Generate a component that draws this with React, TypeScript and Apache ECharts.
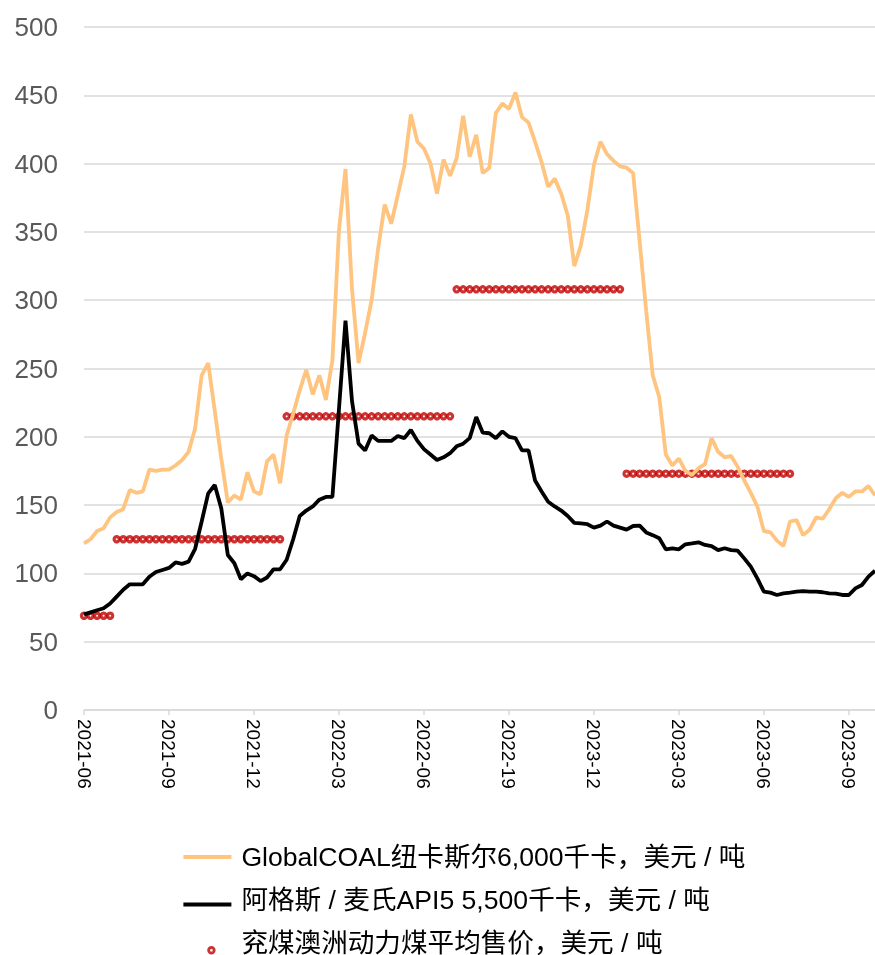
import React, { useEffect, useRef } from "react";
import * as echarts from "echarts";

const FONT = "'Liberation Sans', Arial, 'Noto Sans CJK SC', sans-serif";

// x tick labels (one every 13 weeks), as printed in the source
const tickLabels = ["2021-06", "2021-09", "2021-12", "2022-03", "2022-06", "2022-19", "2023-12", "2023-03", "2023-06", "2023-09"];
const tickEvery = 13;

const seriesNames = [
  "GlobalCOAL纽卡斯尔6,000千卡，美元 / 吨",
  "阿格斯 / 麦氏API5 5,500千卡，美元 / 吨",
  "兖煤澳洲动力煤平均售价，美元 / 吨",
];

// weekly GlobalCOAL Newcastle 6,000 kcal, USD/t
const newcastle = [
  122, 125, 131, 133, 141, 145, 147, 161, 159, 160,
  176, 175, 176, 176, 179, 183, 189, 206, 245, 254,
  219, 184, 152, 157, 154, 174, 160, 158, 182, 187,
  166, 201, 217, 234, 249, 231, 245, 227, 256, 351,
  396, 308, 254, 276, 300, 338, 370, 356, 377, 398,
  436, 416, 411, 400, 378, 403, 391, 404, 435, 405,
  421, 393, 397, 437, 444, 440, 452, 434, 430, 416,
  401, 383, 389, 378, 362, 325, 340, 366, 399, 416,
  407, 402, 398, 397, 393, 343, 292, 245, 229, 187,
  179, 184, 175, 172, 177, 180, 199, 189, 185, 186,
  178, 168, 159, 149, 131, 130, 124, 120, 138, 139,
  128, 132, 141, 140, 147, 155, 159, 156, 160, 160,
  164, 157,
];

// weekly Argus/McCloskey API5 5,500 kcal, USD/t
const api5 = [
  70, 71.5, 73, 74.5, 78, 83, 88, 92, 92, 92,
  97.6, 101, 102.5, 104, 108, 107, 108.6, 118, 138, 158.6,
  164.7, 147.6, 113.5, 107.4, 95.7, 100, 98, 94.4, 97, 103,
  103, 110, 125, 142, 146, 149, 154, 156, 156, 220,
  285, 226, 195, 190, 201, 197, 197, 197, 200.6, 199,
  205, 197, 191, 187, 183, 185, 188, 193, 195, 199,
  214.5, 203, 202.6, 199, 204, 200, 199, 190, 190, 168,
  160, 152.5, 149, 146, 142, 137, 136.6, 136, 133.5, 135,
  138, 135, 133.5, 132, 134.7, 135, 130, 128, 125.7, 117.6,
  118.4, 117.6, 121.3, 122, 122.8, 120.8, 120, 117, 118.4, 117,
  116.6, 111, 105, 96.4, 86.6, 85.9, 84.2, 85.4, 85.9, 86.6,
  87.1, 86.6, 86.6, 86.2, 85.4, 85.2, 84.2, 84.2, 89, 91.5,
  97.6, 102,
];

// Yancoal average realised thermal price by period (week index ranges)
const avgPrice = [69, 125, 215, 308, 173];
const periodStart = [0, 5, 31, 57, 83];
const periodEnd = [4, 30, 56, 82, 108];

const weeks = newcastle.map((_, i) => String(i));

const ORANGE = "#FFC47F";
const DARK_RED = "#C00000";

// legend icons: 48x22 boxes (corner marks fix the box so the visible mark keeps its offset)
const BOX = "M0,0 L0.01,0 M47.99,22 L48,22 ";
const ICON_ORANGE = "path://" + BOX + "M0,9 L48,9 L48,13 L0,13 Z";
const ICON_BLACK = "path://" + BOX + "M0,13.5 L48,13.5 L48,17.5 L0,17.5 Z";
const ICON_DOT = "path://" + BOX + "M25.2,18.3 A2.8,2.8 0 1,0 30.8,18.3 A2.8,2.8 0 1,0 25.2,18.3 Z";

export default function App() {
  const ref = useRef<HTMLDivElement>(null);

  useEffect(() => {
    if (!ref.current) return;
    const chart = echarts.init(ref.current, null, { renderer: "svg" });

    const dots: number[][] = [];
    avgPrice.forEach((v, k) => {
      for (let i = periodStart[k]; i <= periodEnd[k]; i++) dots.push([i, v]);
    });

    chart.setOption({
      animation: false,
      textStyle: { fontFamily: FONT },
      grid: { left: 84, top: 27, bottom: 245, right: -2.3 },
      legend: {
        data: [
          { name: seriesNames[0], icon: ICON_ORANGE },
          { name: seriesNames[1], icon: ICON_BLACK },
          { name: seriesNames[2], icon: ICON_DOT, itemStyle: { borderWidth: 2.8 } },
        ],
        orient: "vertical",
        left: 182,
        top: 843,
        height: 160,
        padding: 0,
        itemWidth: 48,
        itemHeight: 22,
        itemGap: 15,
        textStyle: {
          fontSize: 26.6,
          color: "#000",
          fontFamily: FONT,
          lineHeight: 28,
          padding: [0, 0, 0, 5],
        },
      },
      xAxis: {
        type: "category",
        data: weeks,
        boundaryGap: false,
        axisLine: { lineStyle: { color: "#d9d9d9", width: 1.5 } },
        axisTick: { interval: tickEvery - 1, length: 5, lineStyle: { color: "#d9d9d9", width: 1.5 } },
        axisLabel: {
          interval: tickEvery - 1,
          rotate: -90,
          margin: 9,
          fontSize: 19,
          color: "#000",
          fontFamily: FONT,
          formatter: (_v: string, i: number) => tickLabels[Math.round(i / tickEvery)] ?? "",
        },
        splitLine: { show: false },
      },
      yAxis: {
        type: "value",
        min: 0,
        max: 500,
        interval: 50,
        axisLine: { show: false },
        axisTick: { show: false },
        axisLabel: { fontSize: 26, color: "#595959", margin: 26, fontFamily: FONT },
        splitLine: { lineStyle: { color: "#d9d9d9", width: 1.5 } },
      },
      series: [
        {
          name: seriesNames[0],
          type: "line",
          data: newcastle,
          symbol: "none",
          lineStyle: { color: ORANGE, width: 3.8 },
          itemStyle: { color: ORANGE },
        },
        {
          name: seriesNames[1],
          type: "line",
          data: api5,
          symbol: "none",
          lineStyle: { color: "#000000", width: 3.8 },
          itemStyle: { color: "#000000" },
        },
        {
          name: seriesNames[2],
          type: "scatter",
          data: dots,
          symbol: "circle",
          symbolSize: 5.2,
          itemStyle: { color: "#ffffff", borderColor: DARK_RED, borderWidth: 3.2 },
        },
      ],
    });

    return () => chart.dispose();
  }, []);

  return (
    <div
      ref={ref}
      style={{ position: "fixed", left: 0, top: 0, width: 875, height: 955 }}
    />
  );
}
